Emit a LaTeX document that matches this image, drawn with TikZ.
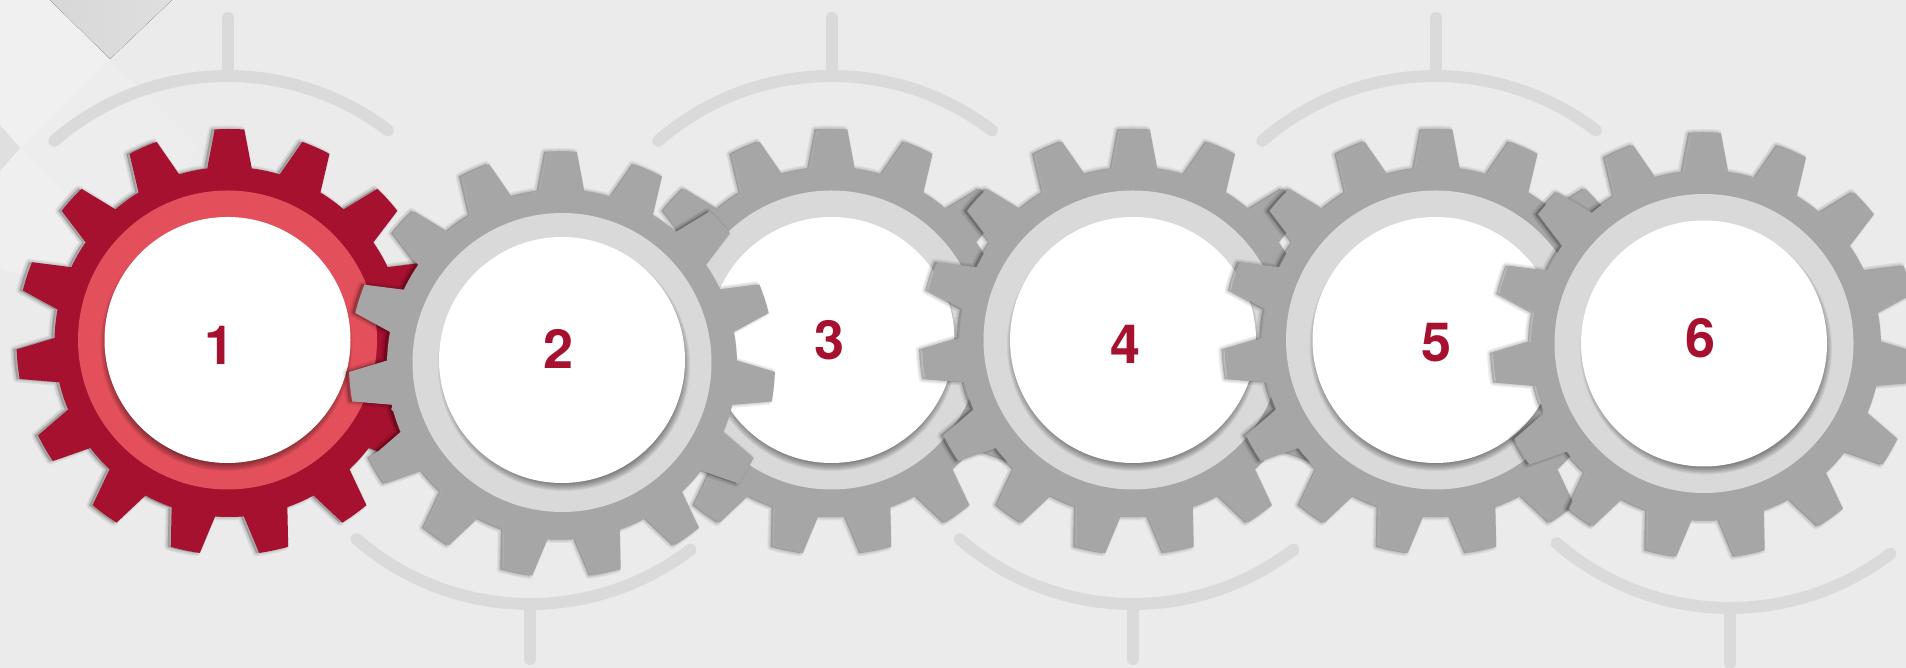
\documentclass[tikz,border=0pt]{standalone}
\usepackage{fontspec}
\setmainfont{TeX Gyre Heros}
\definecolor{paper}{HTML}{EBEBEB}
\definecolor{patcha}{HTML}{D7D7D7}
\definecolor{patchb}{HTML}{DFDFDF}
\definecolor{guidegray}{HTML}{DADADA}
\definecolor{geargray}{HTML}{A6A6A6}
\definecolor{ringgray}{HTML}{D9D9D9}
\definecolor{gearred}{HTML}{A5112F}
\definecolor{ringred}{HTML}{E34F5B}
\newcommand{\gearoutline}{(82.7:175) \foreach \t in {90,114,...,426}{ -- (\t-7.3:175) -- (\t-4:213) arc[start angle=\t-4,end angle=\t+4,radius=213] -- (\t+7.3:175) arc[start angle=\t+7.3,end angle=\t+16.7,radius=175]} -- cycle}
\tikzset{
    guide/.style={draw=guidegray,line width=12pt,line cap=round},
    softedge/.style={fill=black,draw=black,line join=round,opacity=0.05},
    number/.style={font=\fontsize{54}{54}\selectfont\bfseries,text=gearred,inner sep=0pt}
}
\begin{document}
\begin{tikzpicture}[x=1pt,y=1pt]
    \useasboundingbox (0,0) rectangle (1906,668);
    \clip (0,0) rectangle (1906,668);
    % background
    \fill[paper] (0,0) rectangle (1906,668);
    \fill[white,opacity=0.28] (0,668) -- (50,668) -- (110,609) -- (20,520) -- (0,543) -- cycle;
    \fill[white,opacity=0.12] (110,609) -- (200,520) -- (110,430) -- (20,520) -- cycle;
    \fill[white,opacity=0.2] (20,520) -- (110,430) -- (60,380) -- (0,400) -- (0,497) -- cycle;
    \fill[left color=patcha,right color=patchb] (50,668) -- (172,668) -- (110,609) -- cycle;
    \fill[patchb] (0,543) -- (20,520) -- (0,497) -- cycle;
    % guides above and below
    \foreach \cx/\cy in {227.5/328,831.5/328,1435.5/328}{
        \begin{scope}[shift={(\cx,\cy)}]
            \draw[guide] (131:264) arc[start angle=131,end angle=52.6,radius=264];
            \draw[guide] (90:264) -- (90:322);
        \end{scope}
    }
    \foreach \cx/\cy in {530/328,1133/328,1730/324}{
        \begin{scope}[shift={(\cx,\cy)}]
            \draw[guide] (229:264) arc[start angle=229,end angle=307.4,radius=264];
            \draw[guide] (270:264) -- (270:319);
        \end{scope}
    }
    % gears, lowest first
    \foreach \cx/\cy/\gx/\oy/\sx/\tx/\ty/\lbl/\rim/\ring in {
        227.5/328/2/0/-1/220/323/1/gearred/ringred,
        831.5/328/1/0/0/830/328/3/geargray/ringgray,
        562/305.5/0/2.5/2/558.5/319.5/2/geargray/ringgray,
        1133/328/2/0/0/1125/324/4/geargray/ringgray,
        1435.5/328/2/0/0/1436/325/5/geargray/ringgray,
        1704/324.5/2/0/2/1700.5/329.5/6/geargray/ringgray}{
        \begin{scope}[shift={(\cx,\cy)}]
            \foreach \w in {1,3,5,7}{
                \path[softedge,line width=\w pt,xshift=\gx pt-3pt,yshift=-2pt] \gearoutline;
            }
            \fill[\rim,xshift=\gx pt,yshift=-2pt] \gearoutline;
            \fill[\ring] (0,0) circle[radius=149.5];
            \foreach \r in {117,118,...,126}{
                \fill[black,opacity=0.06,xshift=\sx pt,yshift=-5pt] (0,\oy) circle[radius=\r];
            }
            \fill[white] (0,\oy) circle[radius=123];
        \end{scope}
        \node[number] (num\lbl) at (\tx,\ty) {\lbl};
    }
\end{tikzpicture}
\end{document}
